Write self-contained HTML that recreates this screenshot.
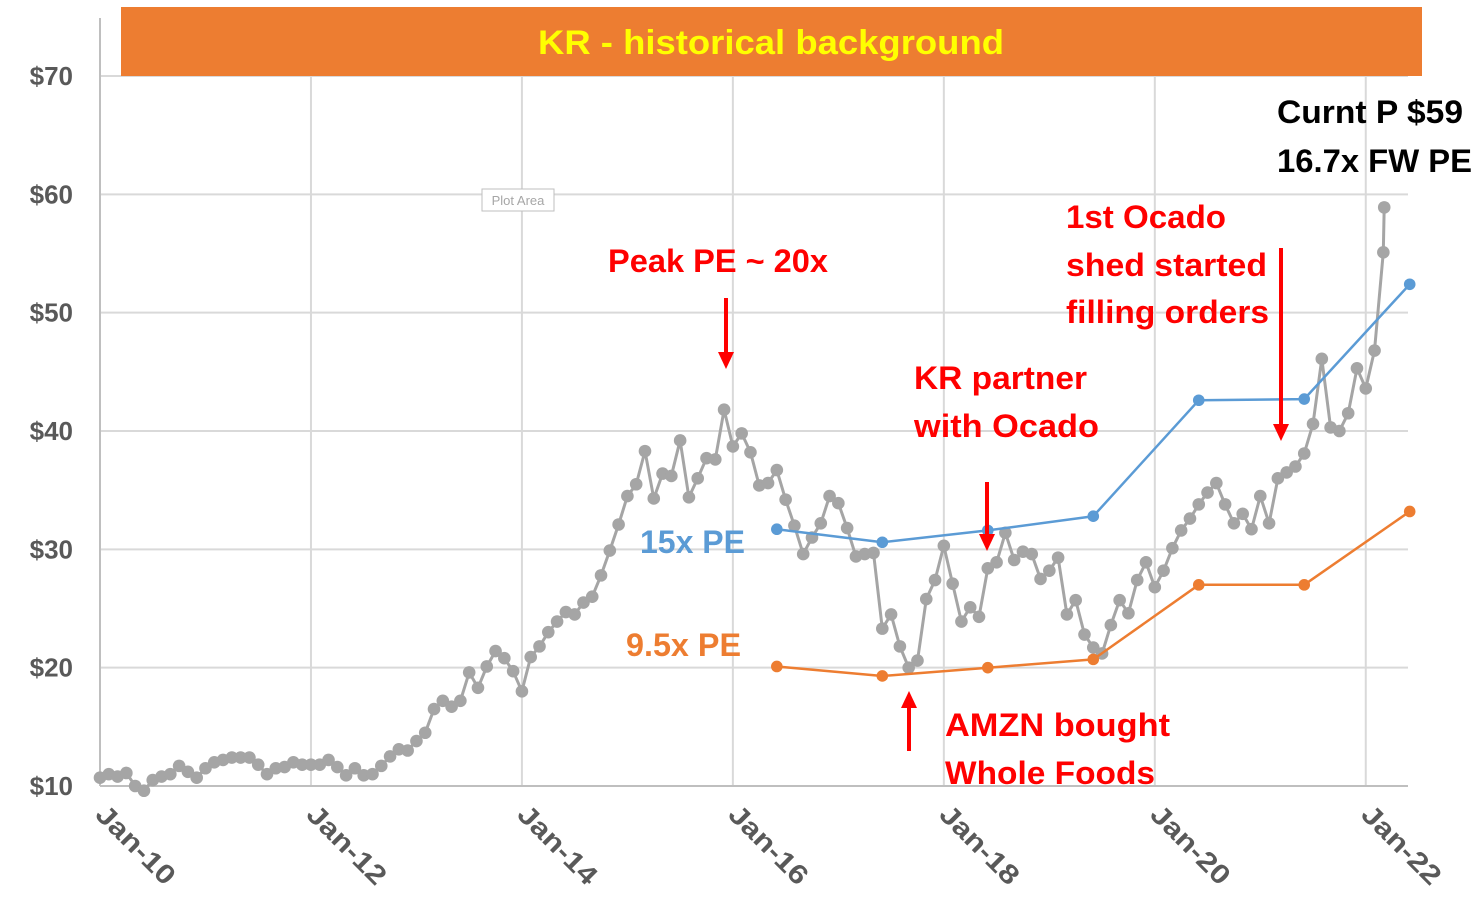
<!DOCTYPE html>
<html><head><meta charset="utf-8"><style>
html,body{margin:0;padding:0;background:#fff;}
svg{display:block;font-family:"Liberation Sans",sans-serif;}
</style></head><body>
<svg id="chart" width="1480" height="910" viewBox="0 0 1480 910" xmlns="http://www.w3.org/2000/svg">
<g id="grid"></g>
<rect x="121" y="7" width="1301" height="69" fill="#ED7D31"/>
<text x="771" y="54" text-anchor="middle" font-size="34" font-weight="bold" fill="#FFFF00" textLength="466" lengthAdjust="spacingAndGlyphs">KR - historical background</text>
<g id="yaxis"></g>
<g id="xaxis"></g>
<g id="series"></g>
<g>
<rect x="482" y="189" width="72" height="22" fill="#fff" stroke="#bfbfbf"/>
<text x="518" y="205" text-anchor="middle" font-size="13" fill="#a6a6a6">Plot Area</text>
</g>
<g font-weight="bold" font-size="32" fill="#FF0000">
<text x="608" y="272" textLength="220" lengthAdjust="spacingAndGlyphs">Peak PE ~ 20x</text>
<text x="914" y="389" textLength="173" lengthAdjust="spacingAndGlyphs">KR partner</text>
<text x="914" y="437" textLength="185" lengthAdjust="spacingAndGlyphs">with Ocado</text>
<text x="1066" y="228" textLength="160" lengthAdjust="spacingAndGlyphs">1st Ocado</text>
<text x="1066" y="276" textLength="201" lengthAdjust="spacingAndGlyphs">shed started</text>
<text x="1066" y="323" textLength="203" lengthAdjust="spacingAndGlyphs">filling orders</text>
<text x="945" y="736" textLength="225" lengthAdjust="spacingAndGlyphs">AMZN bought</text>
<text x="945" y="784" textLength="210" lengthAdjust="spacingAndGlyphs">Whole Foods</text>
<text x="640" y="553" fill="#5B9BD5" textLength="105" lengthAdjust="spacingAndGlyphs">15x PE</text>
<text x="626" y="656" fill="#ED7D31" textLength="115" lengthAdjust="spacingAndGlyphs">9.5x PE</text>
<text x="1277" y="123" fill="#000" textLength="186" lengthAdjust="spacingAndGlyphs">Curnt P $59</text>
<text x="1277" y="172" fill="#000" textLength="195" lengthAdjust="spacingAndGlyphs">16.7x FW PE</text>
</g>
<g fill="#FF0000" stroke="none">
<rect x="724" y="298" width="4" height="56"/><polygon points="718,352 734,352 726,369"/>
<rect x="985" y="482" width="4" height="54"/><polygon points="979,534 995,534 987,551"/>
<rect x="1279" y="248" width="4" height="178"/><polygon points="1273,424 1289,424 1281,441"/>
<rect x="907" y="706" width="4" height="45"/><polygon points="901,708 917,708 909,691"/>
</g>
</svg>
<script>
const yTicks = [10,20,30,40,50,60,70];
const yTickLabels = ["$10","$20","$30","$40","$50","$60","$70"];
const xTickMonths = [0,24,48,72,96,120,144];
const xTickLabels = ["Jan-10","Jan-12","Jan-14","Jan-16","Jan-18","Jan-20","Jan-22"];
const priceMonths = [];
for (let i = 0; i < 147; i++) priceMonths.push(i);
priceMonths.push(146.1);
const priceValues = [10.7,11.0,10.8,11.1,10.0,9.6,10.5,10.8,11.0,11.7,11.2,10.7,11.5,12.0,12.2,12.4,12.4,12.4,11.8,11.0,11.5,11.6,12.0,11.8,11.8,11.8,12.2,11.6,10.9,11.5,10.9,11.0,11.7,12.5,13.1,13.0,13.8,14.5,16.5,17.2,16.7,17.2,19.6,18.3,20.1,21.4,20.8,19.7,18.0,20.9,21.8,23.0,23.9,24.7,24.5,25.5,26.0,27.8,29.9,32.1,34.5,35.5,38.3,34.3,36.4,36.2,39.2,34.4,36.0,37.7,37.6,41.8,38.7,39.8,38.2,35.4,35.6,36.7,34.2,32.0,29.6,31.0,32.2,34.5,33.9,31.8,29.4,29.6,29.7,23.3,24.5,21.8,20.0,20.6,25.8,27.4,30.3,27.1,23.9,25.1,24.3,28.4,28.9,31.4,29.1,29.8,29.6,27.5,28.2,29.3,24.5,25.7,22.8,21.7,21.2,23.6,25.7,24.6,27.4,28.9,26.8,28.2,30.1,31.6,32.6,33.8,34.8,35.6,33.8,32.2,33.0,31.7,34.5,32.2,36.0,36.5,37.0,38.1,40.6,46.1,40.3,40.0,41.5,45.3,43.6,46.8,55.1,58.9];
const peMonths = [77,89,101,113,125,137,149];
const pe15Values = [31.7,30.6,31.6,32.8,42.6,42.7,52.4];
const pe95Values = [20.1,19.3,20.0,20.7,27.0,27.0,33.2];

const X0 = 100, MONTH_W = 8.79, Y10 = 786, PER_UNIT = 11.833;
const xs = m => X0 + m * MONTH_W;
const ys = v => Y10 - (v - 10) * PER_UNIT;
const NS = "http://www.w3.org/2000/svg";
function mk(tag, attrs, parent) {
  const e = document.createElementNS(NS, tag);
  for (const k in attrs) e.setAttribute(k, attrs[k]);
  parent.appendChild(e);
  return e;
}
const grid = document.getElementById('grid');
const yaxis = document.getElementById('yaxis');
const xaxis = document.getElementById('xaxis');
const series = document.getElementById('series');

yTicks.forEach((t, i) => {
  if (t > 10) {
    const l = mk('line', {x1: X0, x2: 1408, y1: ys(t), y2: ys(t), stroke: '#d9d9d9', 'stroke-width': 2}, grid);
    
    
  }
  const tx = mk('text', {x: 73, y: ys(t) + 9, 'text-anchor': 'end', 'font-size': 26, 'font-weight': 'bold', fill: '#595959'}, yaxis);
  tx.textContent = yTickLabels[i];
  
  
});
xTickMonths.forEach((m, i) => {
  if (m > 0) {
    const l = mk('line', {x1: xs(m), x2: xs(m), y1: 76, y2: Y10, stroke: '#d9d9d9', 'stroke-width': 2}, grid);
    
    
  }
  const tx = mk('text', {x: 0, y: 0, 'font-size': 27, 'font-weight': 'bold', fill: '#595959', transform: 'translate(' + (xs(m) - 6) + ',816) rotate(45)', textLength: 100, lengthAdjust: 'spacingAndGlyphs'}, xaxis);
  tx.textContent = xTickLabels[i];
  
  
});
const ax = mk('line', {x1: X0, x2: X0, y1: 18, y2: Y10, stroke: '#bfbfbf', 'stroke-width': 2}, yaxis);


const bx = mk('line', {x1: X0, x2: 1408, y1: Y10, y2: Y10, stroke: '#bfbfbf', 'stroke-width': 2}, xaxis);



function drawSeries(months, vals, color, w, r, name) {
  const g = mk('g', {}, series);
  
  
  const pts = months.map((m, i) => xs(m).toFixed(1) + ',' + ys(vals[i]).toFixed(1)).join(' ');
  const pl = mk('polyline', {points: pts, fill: 'none', stroke: color, 'stroke-width': w, 'stroke-linejoin': 'round'}, g);
  
  
  months.forEach((m, i) => {
    const c = mk('circle', {cx: xs(m), cy: ys(vals[i]), r: r, fill: color}, g);
    
    
  });
}
drawSeries(priceMonths, priceValues, '#A5A5A5', 3, 6.3, 'kr-price-series');
drawSeries(peMonths, pe15Values, '#5B9BD5', 2.5, 5.8, 'pe15-series');
drawSeries(peMonths, pe95Values, '#ED7D31', 2.5, 5.8, 'pe95-series');
</script>
</body></html>
